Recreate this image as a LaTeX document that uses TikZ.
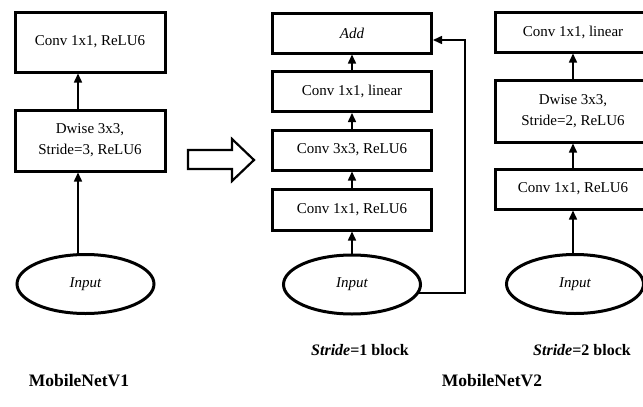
\documentclass[tikz,border=0pt]{standalone}
\usepackage{fontspec}
\setmainfont{Liberation Serif}
\usetikzlibrary{arrows.meta,shapes.geometric,calc}

\begin{document}
\begin{tikzpicture}[x=1pt,y=-1pt,
    blk/.style={draw,rectangle,line width=3pt,minimum width=#1,minimum height=40pt,
      inner sep=0pt,align=center,font=\fontsize{15}{21}\selectfont},
    inp/.style={draw,ellipse,line width=3pt,minimum width=137pt,minimum height=59pt,
      inner sep=0pt,font=\fontsize{15}{18}\selectfont\itshape},
    arr/.style={-{Triangle[length=9pt,width=8pt]},line width=1.5pt},
    lab/.style={font=\fontsize{16}{19}\selectfont\bfseries},
    ttl/.style={font=\fontsize{17.5}{21}\selectfont\bfseries}]
    \useasboundingbox (0,0) rectangle (643,407);
    \clip (0,0) rectangle (643,407);
    \node[blk=150pt,minimum height=60pt] (V1a) at (90,42) {Conv 1x1, ReLU6};
    \node[blk=150pt,minimum height=61pt] (V1b) at (90,140.5) {Dwise 3x3,\\Stride=3, ReLU6};
    \node[inp] (V1in) at (85.5,284) {Input};
    \coordinate (V1x) at (78,0);
    \draw[arr] (V1x |- V1in.north) -- (V1x |- V1b.south);
    \draw[arr] (V1x |- V1b.north) -- (V1x |- V1a.south);
    \draw[line width=2.2pt] (188,150) -- (232,150) -- (232,139) -- (254,160)
      -- (232,181) -- (232,169) -- (188,169) -- cycle;
    \node[blk=159pt] (Add) at (352,33) {\textit{Add}};
    \node[blk=159pt] (L1) at (352,91.5) {Conv 1x1, linear};
    \node[blk=159pt] (C3) at (352,150) {Conv 3x3, ReLU6};
    \node[blk=159pt,minimum height=41pt] (C1) at (352,209.5) {Conv 1x1, ReLU6};
    \node[inp] (In1) at (352,284.5) {Input};
    \draw[arr] (In1) -- (C1);
    \draw[arr] (C1) -- (C3);
    \draw[arr] (C3) -- (L1);
    \draw[arr] (L1) -- (Add);
    \coordinate (S1) at (465,40);
    \draw[arr] (In1.-7) -| (S1) -- (S1 -| Add.east);
    \node[blk=156pt] (R3) at (573,32) {Conv 1x1, linear};
    \node[blk=156pt,minimum height=62pt] (R2) at (573,111) {Dwise 3x3,\\Stride=2, ReLU6};
    \node[blk=156pt] (R1) at (573,189) {Conv 1x1, ReLU6};
    \node[inp] (R0) at (575,284) {Input};
    \coordinate (Rx) at (573,0);
    \draw[arr] (Rx |- R0.north) -- (Rx |- R1.south);
    \draw[arr] (R1) -- (R2);
    \draw[arr] (R2) -- (R3);
    \node[lab] (T1) at (360,350) {\textit{Stride}=1 block};
    \node[lab] (T2) at (582,350) {\textit{Stride}=2 block};
    \node[ttl] (N1) at (79,381) {MobileNetV1};
    \node[ttl] (N2) at (492,381) {MobileNetV2};
\end{tikzpicture}
\end{document}
